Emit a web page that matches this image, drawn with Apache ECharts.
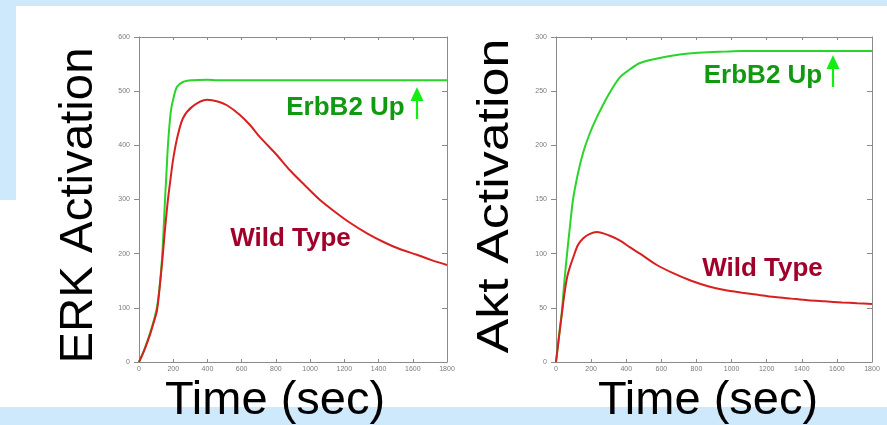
<!DOCTYPE html>
<html>
<head>
<meta charset="utf-8">
<script src="https://cdn.jsdelivr.net/npm/echarts@6/dist/echarts.min.js"></script>
<style>
html,body{margin:0;padding:0;background:#fff;}
#c{width:887px;height:425px;}
</style>
</head>
<body>
<div id="c"></div>
<script>
// ---- data ----
var erkTime  = [0, 30, 64, 85, 105, 120, 134, 143, 152, 161, 170, 185, 199, 222, 257, 310, 397, 460, 514, 590, 650, 707, 800, 882, 970, 1058, 1150, 1233, 1330, 1426, 1520, 1624, 1710, 1800];
var erkErbB2 = [0, 22, 53, 75, 101, 138, 188, 240, 299, 352, 404, 460, 484, 508, 517, 520, 521, 520, 520, 520, 520, 520, 520, 520, 520, 520, 520, 520, 520, 520, 520, 520, 520, 520];
var erkWild  = [0, 21, 50, 72,  95, 135, 180, 212, 245, 275, 302, 340, 373, 412, 450, 471, 484, 481, 474, 456, 437, 415, 384, 354, 326, 299, 276, 257, 238, 222, 209, 198, 188, 179];

var aktTime  = [0, 17, 34, 48, 63, 80, 97, 125, 154, 190, 233, 300, 365, 420, 478, 570, 667, 770, 866, 960, 1059, 1150, 1247, 1340, 1435, 1530, 1629, 1715, 1800];
var aktErbB2 = [0, 24, 48, 75, 100, 126, 150, 174, 193, 210, 226, 247, 263, 270, 276, 280, 283, 285, 286, 286.5, 287, 287, 287, 287, 287, 287, 287, 287, 287];
var aktWild  = [0, 23, 45, 63, 78, 88, 96, 108, 114, 118, 120, 117, 112, 106, 100, 90, 82, 75, 70, 66.5, 64, 62, 60, 58.5, 57, 56, 55, 54.2, 53.5];

var xTicks = {min: 0, max: 1800, interval: 200};
var erkAxis = {min: 0, max: 600, interval: 100};
var aktAxis = {min: 0, max: 300, interval: 50};

function pairs(t, v){ return t.map(function(x,i){ return [x, v[i]]; }); }

var GREEN_LINE = '#2ad42a', RED_LINE = '#d82020';
var GREEN_TXT = '#119a11', RED_TXT = '#a0002a', ARROW = '#11ee11';
var AX = '#8a8a8a', LBL = '#7a7a7a';
var FONT = 'Liberation Sans, Arial, sans-serif';
function plain(v){ return String(v); }

function xAx(grid, pos){
  return {gridIndex: grid, type:'value', position: pos, min: xTicks.min, max: xTicks.max, interval: xTicks.interval,
    axisLine:{show:true, onZero:false, lineStyle:{color:AX, width:1}},
    axisTick:{show:true, inside:true, length:3, lineStyle:{color:AX}},
    axisLabel:{show: pos==='bottom', fontSize:7, color:LBL, margin:4, fontFamily:FONT, formatter: plain},
    splitLine:{show:false}};
}
function yAx(grid, pos, r){
  return {gridIndex: grid, type:'value', position: pos, min: r.min, max: r.max, interval: r.interval,
    axisLine:{show:true, onZero:false, lineStyle:{color:AX, width:1}},
    axisTick:{show:true, inside: pos==='right', length:5, lineStyle:{color:AX}},
    axisLabel:{show: pos==='left', fontSize:7, color:LBL, margin:9, fontFamily:FONT, formatter: plain},
    splitLine:{show:false}};
}
function line(xi, yi, data, color){
  return {type:'line', xAxisIndex: xi, yAxisIndex: yi, data: data, smooth: 0.3,
    showSymbol:false, symbol:'none', lineStyle:{color: color, width: 2}, itemStyle:{color: color}, silent:true};
}
function txt(x, y, s, size, color, bold, rot, sx){
  return {type:'text', x:x, y:y, rotation: rot||0, scaleX: sx||1, z:10,
    style:{text:s, fontSize:size, fontFamily:FONT, fontWeight: bold?'bold':'normal', fill:color,
      textAlign:'center', textVerticalAlign:'middle'}};
}
function arrow(x, yTip, yBot){
  return [
    {type:'line', z:10, shape:{x1:x, y1:yTip+12, x2:x, y2:yBot}, style:{stroke:ARROW, lineWidth:2.2}},
    {type:'polygon', z:10, shape:{points:[[x, yTip],[x-6.5, yTip+14],[x+6.5, yTip+14]]}, style:{fill:ARROW}}
  ];
}

var chart = echarts.init(document.getElementById('c'), null, {renderer:'canvas'});
var graphics = [
  {type:'rect', z:-5, shape:{x:0, y:0, width:887, height:6}, style:{fill:'#cde9fb'}},
  {type:'rect', z:-5, shape:{x:0, y:0, width:16, height:200}, style:{fill:'#cde9fb'}},
  {type:'rect', z:-5, shape:{x:0, y:407, width:887, height:18}, style:{fill:'#cde9fb'}},
  txt(79.5, 205.5, 'ERK Activation', 46, '#000', false, Math.PI/2, 1.03),
  txt(496, 196, 'Akt Activation', 44, '#000', false, Math.PI/2, 1.18),
  txt(275, 401, 'Time (sec)', 47, '#000', false),
  txt(708, 401, 'Time (sec)', 47, '#000', false),
  txt(345.5, 108, 'ErbB2 Up', 26, GREEN_TXT, true),
  txt(763, 76, 'ErbB2 Up', 26, GREEN_TXT, true),
  txt(290.5, 239, 'Wild Type', 26, RED_TXT, true),
  txt(762.5, 269, 'Wild Type', 26, RED_TXT, true)
].concat(arrow(417, 87, 119)).concat(arrow(833, 55, 87));

chart.setOption({
  animation:false,
  backgroundColor:'#ffffff',
  grid:[
    {left:139, right:440, top:37, bottom:63},
    {left:556, right:15, top:37, bottom:63}
  ],
  xAxis:[xAx(0,'bottom'), xAx(0,'top'), xAx(1,'bottom'), xAx(1,'top')],
  yAxis:[yAx(0,'left',erkAxis), yAx(0,'right',erkAxis), yAx(1,'left',aktAxis), yAx(1,'right',aktAxis)],
  series:[
    line(0, 0, pairs(erkTime, erkErbB2), GREEN_LINE),
    line(0, 0, pairs(erkTime, erkWild), RED_LINE),
    line(2, 2, pairs(aktTime, aktErbB2), GREEN_LINE),
    line(2, 2, pairs(aktTime, aktWild), RED_LINE)
  ],
  graphic: graphics
});
</script>
</body>
</html>
